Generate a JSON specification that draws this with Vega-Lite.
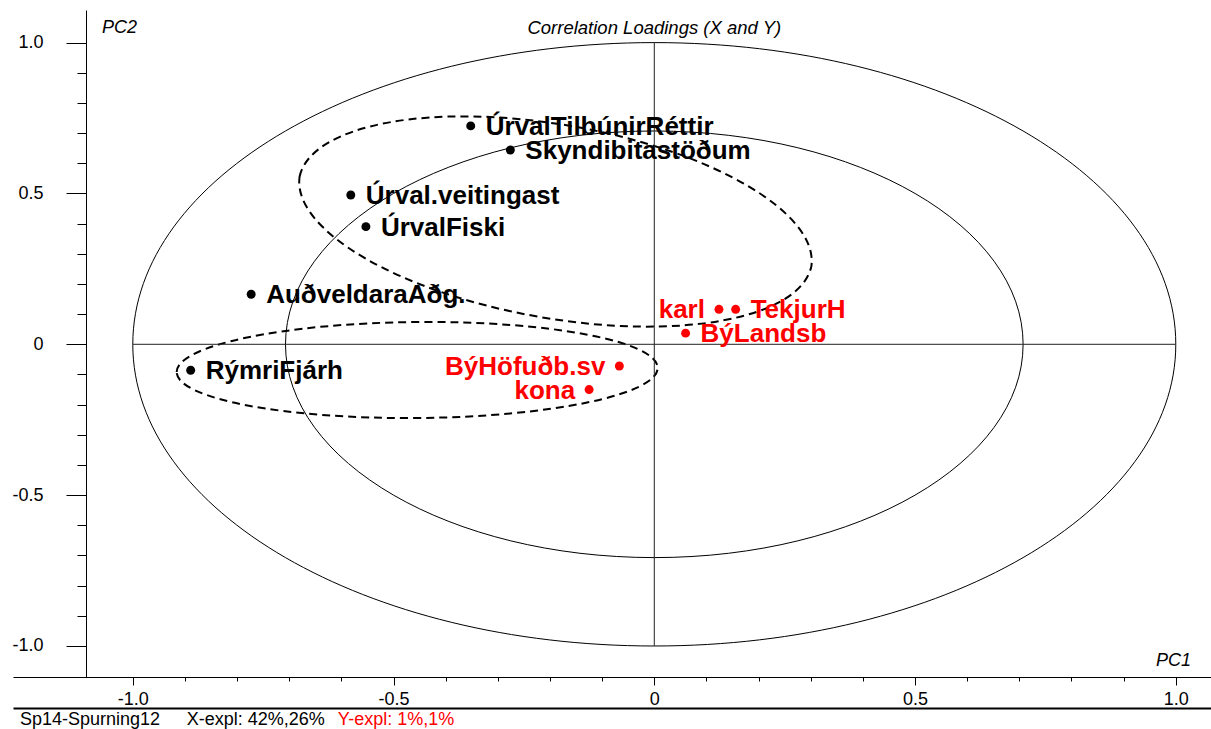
{
  "$schema": "https://vega.github.io/schema/vega-lite/v6.json",
  "autosize": "none",
  "padding": {"left": 13, "top": 10, "right": 0, "bottom": 52},
  "width": 1198,
  "height": 667,
  "background": "white",
  "config": {
    "view": {"stroke": null},
    "font": "Liberation Sans",
    "axis": {"grid": false, "domainColor": "#000", "tickColor": "#000", "labelColor": "#000", "labelFont": "Liberation Sans", "labelFontSize": 18, "labelFlush": false, "labelOverlap": false, "title": null}
  },
  "datasets": {
    "loadings": [
      {"name": "ÚrvalTilbúnirRéttir", "set": "X", "pc1": -0.352, "pc2": 0.724},
      {"name": "Skyndibitastöðum", "set": "X", "pc1": -0.276, "pc2": 0.644},
      {"name": "Úrval.veitingast", "set": "X", "pc1": -0.582, "pc2": 0.495},
      {"name": "ÚrvalFiski", "set": "X", "pc1": -0.553, "pc2": 0.390},
      {"name": "AuðveldaraAðg.", "set": "X", "pc1": -0.773, "pc2": 0.166},
      {"name": "RýmriFjárh", "set": "X", "pc1": -0.889, "pc2": -0.086},
      {"name": "karl", "set": "Y", "pc1": 0.124, "pc2": 0.116},
      {"name": "TekjurH", "set": "Y", "pc1": 0.156, "pc2": 0.116},
      {"name": "BýLandsb", "set": "Y", "pc1": 0.060, "pc2": 0.037},
      {"name": "BýHöfuðb.sv", "set": "Y", "pc1": -0.067, "pc2": -0.072},
      {"name": "kona", "set": "Y", "pc1": -0.125, "pc2": -0.150}
    ]
  },
  "layer": [
    {
      "data": {"values": [{}]},
      "mark": {"type": "point", "shape": "M -521.5 0 A 521.5 301.7 0 0 1 521.5 0 A 521.5 301.7 0 0 1 -521.5 0 Z", "size": 4, "filled": false, "color": "#000", "stroke": "#000", "strokeWidth": 1, "opacity": 1},
      "encoding": {
        "x": {"datum": 0, "type": "quantitative", "scale": {"domain": [-1.2297, 1.0675], "nice": false, "zero": false},
          "axis": {"orient": "bottom", "values": [-1, -0.5, 0, 0.5, 1], "labelExpr": "datum.value == 0 ? '0' : (datum.value < 0 ? '-' : '') + format(abs(datum.value), '.1f')", "tickSize": 8, "labelPadding": 5, "domain": true, "domainWidth": 1, "ticks": true, "tickWidth": 1}},
        "y": {"datum": 0, "type": "quantitative", "scale": {"domain": [-1.1028, 1.1081], "nice": false, "zero": false},
          "axis": {"orient": "left", "offset": -73, "values": [-1, -0.5, 0, 0.5, 1], "labelExpr": "datum.value == 0 ? '0' : (datum.value < 0 ? '-' : '') + format(abs(datum.value), '.1f')", "tickSize": 20, "labelPadding": 23, "domain": true, "domainWidth": 1, "ticks": true, "tickWidth": 1}}
      }
    },
    {
      "data": {"values": [{}]},
      "mark": {"type": "point", "shape": "M -368.8 0 A 368.8 213.3 0 0 1 368.8 0 A 368.8 213.3 0 0 1 -368.8 0 Z", "size": 4, "filled": false, "color": "#000", "stroke": "#000", "strokeWidth": 1, "opacity": 1},
      "encoding": {
        "x": {"datum": 0, "type": "quantitative", "scale": {"domain": [-1.2297, 1.0675], "nice": false, "zero": false},
          "axis": {"orient": "bottom", "values": [-1, -0.9, -0.8, -0.7, -0.6, -0.5, -0.4, -0.3, -0.2, -0.1, 0, 0.1, 0.2, 0.3, 0.4, 0.5, 0.6, 0.7, 0.8, 0.9, 1], "tickSize": 4, "labels": false, "domain": false, "ticks": true, "tickWidth": 1}},
        "y": {"datum": 0, "type": "quantitative", "scale": {"domain": [-1.1028, 1.1081], "nice": false, "zero": false},
          "axis": {"orient": "left", "offset": -73, "values": [-1, -0.9, -0.8, -0.7, -0.6, -0.5, -0.4, -0.3, -0.2, -0.1, 0, 0.1, 0.2, 0.3, 0.4, 0.5, 0.6, 0.7, 0.8, 0.9, 1], "tickSize": 9, "labels": false, "domain": false, "ticks": true, "tickWidth": 1}}
      }
    },
    {
      "data": {"values": [{}]},
      "mark": {"type": "point", "shape": "M -255.9 -44.7 A 259.8 98.1 9.9 0 1 255.9 44.7 A 259.8 98.1 9.9 0 1 -255.9 -44.7 Z", "size": 4, "filled": false, "color": "#000", "stroke": "#000", "strokeWidth": 2, "strokeDash": [8, 5], "opacity": 1},
      "encoding": {
        "x": {"datum": -0.1895, "type": "quantitative", "scale": {"domain": [-1.2297, 1.0675], "nice": false, "zero": false},
          "axis": {"orient": "bottom", "offset": 31, "domain": true, "domainWidth": 2, "ticks": false, "labels": false}},
        "y": {"datum": 0.407, "type": "quantitative", "scale": {"domain": [-1.1028, 1.1081], "nice": false, "zero": false}, "axis": null}
      }
    },
    {
      "data": {"values": [{}]},
      "mark": {"type": "point", "shape": "M -240.5 2.1 A 240.5 48 -0.5 0 1 240.5 -2.1 A 240.5 48 -0.5 0 1 -240.5 2.1 Z", "size": 4, "filled": false, "color": "#000", "stroke": "#000", "strokeWidth": 2, "strokeDash": [8, 5], "opacity": 1},
      "encoding": {
        "x": {"datum": -0.4547, "type": "quantitative", "scale": {"domain": [-1.2297, 1.0675], "nice": false, "zero": false}, "axis": null},
        "y": {"datum": -0.0852, "type": "quantitative", "scale": {"domain": [-1.1028, 1.1081], "nice": false, "zero": false}, "axis": null}
      }
    },
    {
      "data": {"values": [{}]},
      "mark": {"type": "rule", "color": "#222", "strokeWidth": 1},
      "encoding": {
        "x": {"datum": 0, "type": "quantitative", "scale": {"domain": [-1.2297, 1.0675], "nice": false, "zero": false}, "axis": null},
        "y": {"datum": -1, "type": "quantitative", "scale": {"domain": [-1.1028, 1.1081], "nice": false, "zero": false}, "axis": null},
        "y2": {"datum": 1}
      }
    },
    {
      "data": {"values": [{}]},
      "mark": {"type": "rule", "color": "#222", "strokeWidth": 1},
      "encoding": {
        "y": {"datum": 0, "type": "quantitative", "scale": {"domain": [-1.1028, 1.1081], "nice": false, "zero": false}, "axis": null},
        "x": {"datum": -1, "type": "quantitative", "scale": {"domain": [-1.2297, 1.0675], "nice": false, "zero": false}, "axis": null},
        "x2": {"datum": 1}
      }
    },
    {
      "data": {"name": "loadings"},
      "mark": {"type": "point", "filled": true, "size": 80, "opacity": 1, "shape": "circle"},
      "encoding": {
        "x": {"field": "pc1", "type": "quantitative", "scale": {"domain": [-1.2297, 1.0675], "nice": false, "zero": false}, "axis": null},
        "y": {"field": "pc2", "type": "quantitative", "scale": {"domain": [-1.1028, 1.1081], "nice": false, "zero": false}, "axis": null},
        "color": {"field": "set", "type": "nominal", "scale": {"domain": ["X", "Y"], "range": ["#000000", "#ff0000"]}, "legend": null}
      }
    },
    {
      "data": {"name": "loadings"},
      "transform": [{"filter": {"not": {"field": "name", "oneOf": ["karl", "BýHöfuðb.sv", "kona"]}}}],
      "mark": {"type": "text", "align": "left", "baseline": "middle", "dx": 15, "dy": 1, "font": "Liberation Sans", "fontSize": 26, "fontWeight": "bold", "clip": false},
      "encoding": {
        "x": {"field": "pc1", "type": "quantitative", "scale": {"domain": [-1.2297, 1.0675], "nice": false, "zero": false}, "axis": null},
        "y": {"field": "pc2", "type": "quantitative", "scale": {"domain": [-1.1028, 1.1081], "nice": false, "zero": false}, "axis": null},
        "text": {"field": "name"},
        "color": {"field": "set", "type": "nominal", "scale": {"domain": ["X", "Y"], "range": ["#000000", "#ff0000"]}, "legend": null}
      }
    },
    {
      "data": {"name": "loadings"},
      "transform": [{"filter": {"field": "name", "oneOf": ["karl", "BýHöfuðb.sv", "kona"]}}],
      "mark": {"type": "text", "align": "right", "baseline": "middle", "dx": -14, "dy": 1, "font": "Liberation Sans", "fontSize": 26, "fontWeight": "bold", "clip": false},
      "encoding": {
        "x": {"field": "pc1", "type": "quantitative", "scale": {"domain": [-1.2297, 1.0675], "nice": false, "zero": false}, "axis": null},
        "y": {"field": "pc2", "type": "quantitative", "scale": {"domain": [-1.1028, 1.1081], "nice": false, "zero": false}, "axis": null},
        "text": {"field": "name"},
        "color": {"field": "set", "type": "nominal", "scale": {"domain": ["X", "Y"], "range": ["#000000", "#ff0000"]}, "legend": null}
      }
    },
    {
      "data": {"values": [{}]},
      "mark": {"type": "text", "text": "Correlation Loadings (X and Y)", "align": "center", "baseline": "middle", "font": "Liberation Sans", "fontSize": 18.5, "fontStyle": "italic", "color": "#000", "clip": false},
      "encoding": {
        "x": {"datum": 0, "type": "quantitative", "scale": {"domain": [-1.2297, 1.0675], "nice": false, "zero": false}, "axis": null},
        "y": {"datum": 1.0484, "type": "quantitative", "scale": {"domain": [-1.1028, 1.1081], "nice": false, "zero": false}, "axis": null}
      }
    },
    {
      "data": {"values": [{}]},
      "mark": {"type": "text", "text": "PC2", "align": "left", "baseline": "middle", "font": "Liberation Sans", "fontSize": 18, "fontStyle": "italic", "color": "#000", "clip": false},
      "encoding": {
        "x": {"datum": -1.0591, "type": "quantitative", "scale": {"domain": [-1.2297, 1.0675], "nice": false, "zero": false}, "axis": null},
        "y": {"datum": 1.0468, "type": "quantitative", "scale": {"domain": [-1.1028, 1.1081], "nice": false, "zero": false}, "axis": null}
      }
    },
    {
      "data": {"values": [{}]},
      "mark": {"type": "text", "text": "PC1", "align": "right", "baseline": "middle", "font": "Liberation Sans", "fontSize": 18, "fontStyle": "italic", "color": "#000", "clip": false},
      "encoding": {
        "x": {"datum": 1.0292, "type": "quantitative", "scale": {"domain": [-1.2297, 1.0675], "nice": false, "zero": false}, "axis": null},
        "y": {"datum": -1.0514, "type": "quantitative", "scale": {"domain": [-1.1028, 1.1081], "nice": false, "zero": false}, "axis": null}
      }
    },
    {
      "data": {"values": [{}]},
      "mark": {"type": "text", "text": "Sp14-Spurning12", "align": "left", "baseline": "middle", "font": "Liberation Sans", "fontSize": 18, "color": "#000", "clip": false},
      "encoding": {
        "x": {"datum": -1.2163, "type": "quantitative", "scale": {"domain": [-1.2297, 1.0675], "nice": false, "zero": false}, "axis": null},
        "y": {"datum": -1.2453, "type": "quantitative", "scale": {"domain": [-1.1028, 1.1081], "nice": false, "zero": false}, "axis": null}
      }
    },
    {
      "data": {"values": [{}]},
      "mark": {"type": "text", "text": "X-expl: 42%,26%", "align": "left", "baseline": "middle", "font": "Liberation Sans", "fontSize": 18, "color": "#000", "clip": false},
      "encoding": {
        "x": {"datum": -0.8965, "type": "quantitative", "scale": {"domain": [-1.2297, 1.0675], "nice": false, "zero": false}, "axis": null},
        "y": {"datum": -1.2453, "type": "quantitative", "scale": {"domain": [-1.1028, 1.1081], "nice": false, "zero": false}, "axis": null}
      }
    },
    {
      "data": {"values": [{}]},
      "mark": {"type": "text", "text": "Y-expl: 1%,1%", "align": "left", "baseline": "middle", "font": "Liberation Sans", "fontSize": 18, "color": "#ff0000", "clip": false},
      "encoding": {
        "x": {"datum": -0.6068, "type": "quantitative", "scale": {"domain": [-1.2297, 1.0675], "nice": false, "zero": false}, "axis": null},
        "y": {"datum": -1.2453, "type": "quantitative", "scale": {"domain": [-1.1028, 1.1081], "nice": false, "zero": false}, "axis": null}
      }
    }
  ],
  "resolve": {"axis": {"x": "independent", "y": "independent"}}
}
